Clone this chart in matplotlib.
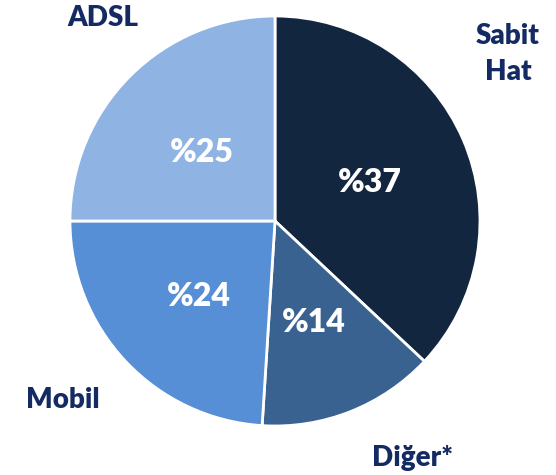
import matplotlib.pyplot as plt

labels = ['Sabit\nHat', 'Diğer*', 'Mobil', 'ADSL']
values = [37, 14, 24, 25]
colors = ['#13263f', '#3a6291', '#568fd5', '#8fb3e3']
pct_text = ['%37', '%14', '%24', '%25']

plt.rcParams['font.family'] = ['Lato', 'DejaVu Sans']

fig = plt.figure(figsize=(5.56, 4.75), dpi=100)
ax = fig.add_axes([70 / 556, 49 / 475, 410 / 556, 410 / 475])

wedges, _ = ax.pie(values, colors=colors, startangle=90, counterclock=False,
                   radius=1, wedgeprops=dict(edgecolor='white', linewidth=2))
ax.set_xlim(-1, 1)
ax.set_ylim(-1, 1)
ax.set_aspect('equal')
ax.axis('off')


def px(x, y):
    # pixel position in the picture -> data coords of the pie
    return (x - 275) / 205, (221 - y) / 205


pct_pos = [(370, 183), (314, 322), (199, 296), (202, 152)]
for t, (x, y) in zip(pct_text, pct_pos):
    ax.text(*px(x, y), t, color='white', fontsize=23, fontweight='heavy',
            ha='center', va='center')

lab_pos = [(508, 54), (413, 458), (63, 400), (103, 18)]
for t, (x, y) in zip(labels, lab_pos):
    ax.text(*px(x, y), t, color='#142a62', fontsize=20, fontweight='heavy',
            ha='center', va='center', linespacing=1.45, clip_on=False)

fig.savefig('out.png', dpi=100)
